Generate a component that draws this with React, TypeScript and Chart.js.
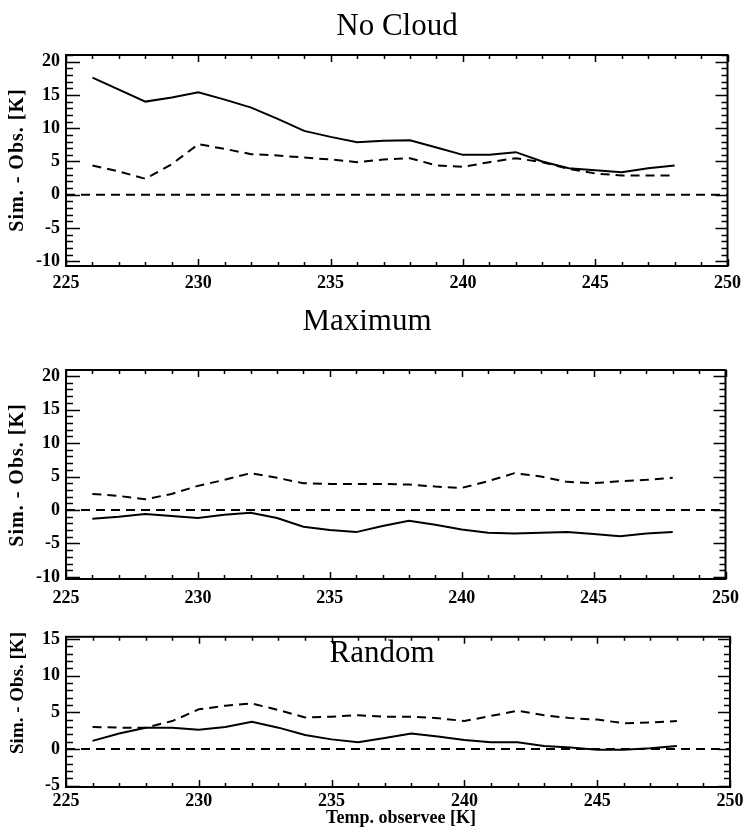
import { useEffect, useRef } from 'react';
import { Chart, registerables } from 'chart.js';

Chart.register(...registerables);

// ---------- data ----------
const TEMPS = [226, 227, 228, 229, 230, 231, 232, 233, 234, 235, 236, 237, 238, 239, 240, 241, 242, 243, 244, 245, 246, 247, 248];
const ZERO_X = [225, 250];
const X_TICKS = [225, 230, 235, 240, 245, 250];
const Y_TICKS_WIDE = [-10, -5, 0, 5, 10, 15, 20];
const Y_TICKS_RANDOM = [-5, 0, 5, 10, 15];

const NOCLOUD_SOLID = [17.6, 15.8, 14.0, 14.6, 15.4, 14.3, 13.1, 11.4, 9.6, 8.7, 7.9, 8.1, 8.2, 7.1, 6.0, 6.0, 6.4, 5.0, 4.0, 3.7, 3.4, 4.0, 4.4];
const NOCLOUD_DASHED = [4.4, 3.5, 2.4, 4.6, 7.6, 6.9, 6.1, 5.9, 5.6, 5.3, 4.9, 5.3, 5.5, 4.4, 4.2, 4.9, 5.5, 4.9, 3.9, 3.2, 2.9, 2.9, 2.9];

const MAX_SOLID = [-1.3, -1.0, -0.6, -0.9, -1.2, -0.7, -0.4, -1.2, -2.5, -3.0, -3.3, -2.4, -1.6, -2.2, -2.9, -3.4, -3.5, -3.4, -3.3, -3.6, -3.9, -3.5, -3.3];
const MAX_DASHED = [2.4, 2.1, 1.6, 2.4, 3.6, 4.5, 5.5, 4.8, 4.0, 3.9, 3.9, 3.9, 3.8, 3.5, 3.3, 4.3, 5.5, 5.0, 4.2, 4.0, 4.3, 4.5, 4.8];

const RAND_SOLID = [1.1, 2.1, 2.9, 2.9, 2.6, 3.0, 3.7, 2.9, 1.9, 1.3, 0.9, 1.5, 2.1, 1.7, 1.2, 0.9, 0.9, 0.4, 0.2, -0.1, -0.1, 0.1, 0.4];
const RAND_DASHED = [3.0, 2.9, 2.9, 3.8, 5.4, 5.9, 6.2, 5.3, 4.3, 4.4, 4.6, 4.4, 4.4, 4.2, 3.8, 4.5, 5.2, 4.6, 4.2, 4.0, 3.5, 3.6, 3.8];

const TITLES = ['No Cloud', 'Maximum', 'Random'];
const Y_TITLE = 'Sim. - Obs. [K]';
const X_TITLE = 'Temp. observee [K]';

// ---------- styling ----------
const SERIF = '"Liberation Serif", "Times New Roman", serif';
const W = 748;

type TextItem = { text: string; x: number; y: number; font: string; rotate?: boolean; spacing?: string; baseline?: CanvasTextBaseline };

const framePlugin = {
  id: 'frameTicks',
  afterDatasetsDraw(chart: any) {
    const { ctx, chartArea, scales } = chart;
    const { left, right, top, bottom } = chartArea;
    const x = scales.x;
    const y = scales.y;
    ctx.save();
    ctx.strokeStyle = '#000';
    ctx.lineWidth = 1.5;
    ctx.beginPath();
    for (let v = Math.ceil(x.min); v <= Math.floor(x.max); v++) {
      const px = Math.round(x.getPixelForValue(v)) + 0.5;
      const len = v % 5 === 0 ? 7 : 4;
      ctx.moveTo(px, bottom);
      ctx.lineTo(px, bottom - len);
      ctx.moveTo(px, top);
      ctx.lineTo(px, top + len);
    }
    for (let v = Math.ceil(y.min); v <= Math.floor(y.max); v++) {
      const py = Math.round(y.getPixelForValue(v)) + 0.5;
      const major = v % 5 === 0;
      ctx.moveTo(left, py);
      ctx.lineTo(left + (major ? 14 : 7), py);
      ctx.moveTo(right, py);
      ctx.lineTo(right - (major ? 12 : 6), py);
    }
    ctx.stroke();
    ctx.lineWidth = 2;
    ctx.strokeRect(left, top, right - left, bottom - top);
    ctx.restore();
  },
};

const textPlugin = {
  id: 'extraTexts',
  afterDraw(chart: any, _args: any, opts: any) {
    const items: TextItem[] = (opts && opts.items) || [];
    const ctx = chart.ctx;
    ctx.save();
    ctx.fillStyle = '#000';
    ctx.textAlign = 'center';
    for (const it of items) {
      ctx.save();
      ctx.font = it.font;
      (ctx as any).letterSpacing = it.spacing || '0px';
      ctx.textBaseline = it.baseline || 'alphabetic';
      ctx.translate(it.x, it.y);
      if (it.rotate) ctx.rotate(-Math.PI / 2);
      ctx.fillText(it.text, 0, 0);
      ctx.restore();
    }
    ctx.restore();
  },
};

type PanelSpec = {
  top: number;
  height: number;
  padTop: number;
  xHeight: number;
  labelPad: number;
  yMin: number;
  yMax: number;
  yTicks: number[];
  solid: number[];
  dashed: number[];
  texts: TextItem[];
};

const PANELS: PanelSpec[] = [
  {
    top: 0, height: 310, padTop: 55, xHeight: 44, labelPad: 7,
    yMin: -10.7, yMax: 21, yTicks: Y_TICKS_WIDE,
    solid: NOCLOUD_SOLID, dashed: NOCLOUD_DASHED,
    texts: [
      { text: TITLES[0], x: 397, y: 35, font: `31px ${SERIF}` },
      { text: Y_TITLE, x: 18, y: 160, font: `bold 20px ${SERIF}`, rotate: true, spacing: '1px', baseline: 'middle' },
    ],
  },
  {
    top: 310, height: 310, padTop: 60, xHeight: 41, labelPad: 9,
    yMin: -10.3, yMax: 20.9, yTicks: Y_TICKS_WIDE,
    solid: MAX_SOLID, dashed: MAX_DASHED,
    texts: [
      { text: TITLES[1], x: 367, y: 20, font: `31px ${SERIF}` },
      { text: Y_TITLE, x: 18, y: 165, font: `bold 20px ${SERIF}`, rotate: true, spacing: '1px', baseline: 'middle' },
    ],
  },
  {
    top: 620, height: 213, padTop: 13, xHeight: 46, labelPad: 4,
    yMin: -5.2, yMax: 15.3, yTicks: Y_TICKS_RANDOM,
    solid: RAND_SOLID, dashed: RAND_DASHED,
    texts: [
      { text: TITLES[2], x: 382, y: 42, font: `31px ${SERIF}` },
      { text: Y_TITLE, x: 18, y: 73, font: `bold 19px ${SERIF}`, rotate: true, baseline: 'middle' },
      { text: X_TITLE, x: 401, y: 198, font: `bold 18px ${SERIF}`, baseline: 'middle' },
    ],
  },
];

function buildConfig(p: PanelSpec): any {
  const tickFont = { family: SERIF, size: 18, weight: 'bold' as const };
  return {
    type: 'line',
    data: {
      datasets: [
        {
          data: ZERO_X.map((x) => ({ x, y: 0 })),
          borderColor: '#000', borderWidth: 2, borderDash: [9, 6], pointRadius: 0, fill: false,
        },
        {
          data: TEMPS.map((x, i) => ({ x, y: p.solid[i] })),
          borderColor: '#000', borderWidth: 2, pointRadius: 0, fill: false, tension: 0,
        },
        {
          data: TEMPS.map((x, i) => ({ x, y: p.dashed[i] })),
          borderColor: '#000', borderWidth: 2, borderDash: [9, 6], pointRadius: 0, fill: false, tension: 0,
        },
      ],
    },
    options: {
      animation: false,
      responsive: false,
      devicePixelRatio: 1,
      layout: { padding: { top: p.padTop, right: 18, left: 0, bottom: 0 } },
      plugins: {
        legend: { display: false },
        tooltip: { enabled: false },
        title: { display: false },
        extraTexts: { items: p.texts },
      },
      scales: {
        x: {
          type: 'linear',
          min: 225,
          max: 250,
          grid: { display: false, drawTicks: false },
          border: { display: false },
          afterBuildTicks: (s: any) => { s.ticks = X_TICKS.map((v) => ({ value: v })); },
          afterFit: (s: any) => { s.height = p.xHeight; },
          ticks: {
            autoSkip: false, maxRotation: 0, minRotation: 0, padding: p.labelPad,
            color: '#000', font: tickFont,
          },
        },
        y: {
          type: 'linear',
          min: p.yMin,
          max: p.yMax,
          grid: { display: false, drawTicks: false },
          border: { display: false },
          afterBuildTicks: (s: any) => { s.ticks = p.yTicks.map((v) => ({ value: v })); },
          afterFit: (s: any) => { s.width = 66; },
          ticks: { padding: 6, color: '#000', font: tickFont },
        },
      },
    },
    plugins: [framePlugin, textPlugin],
  };
}

export default function App() {
  const refs = [useRef<HTMLCanvasElement>(null), useRef<HTMLCanvasElement>(null), useRef<HTMLCanvasElement>(null)];

  useEffect(() => {
    const charts: Chart[] = [];
    PANELS.forEach((p, i) => {
      const c = refs[i].current;
      if (c) charts.push(new Chart(c, buildConfig(p)));
    });
    return () => charts.forEach((ch) => ch.destroy());
  }, []);

  return (
    <div style={{ position: 'fixed', left: 0, top: 0, width: W, height: 833, background: '#fff', overflow: 'hidden' }}>
      {PANELS.map((p, i) => (
        <canvas
          key={i}
          ref={refs[i]}
          width={W}
          height={p.height}
          style={{ position: 'absolute', left: 0, top: p.top, width: W, height: p.height, display: 'block' }}
        />
      ))}
    </div>
  );
}
